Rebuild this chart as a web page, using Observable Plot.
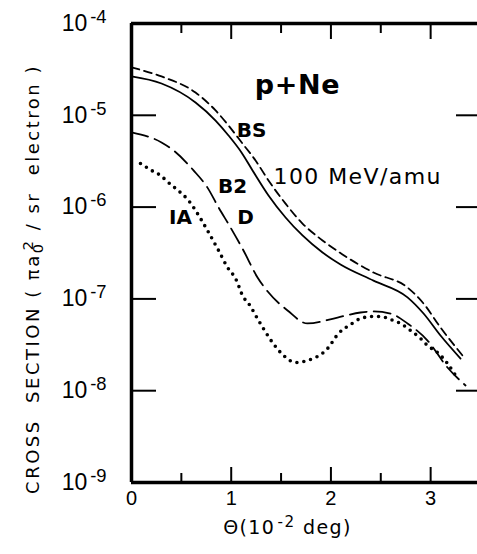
<!DOCTYPE html>
<html><head><meta charset="utf-8">
<script src="https://cdn.jsdelivr.net/npm/d3@7"></script>
<script src="https://cdn.jsdelivr.net/npm/@observablehq/plot@0.6"></script>
<style>
html,body{margin:0;padding:0;background:#fff}
#chart svg{display:block}
</style>
</head><body><div id="chart"></div>
<script>
// Scattering angle (10^-2 deg) and cross section (pi a0^2 / sr electron)
const thetaDashed = [0, 0.301, 0.642, 0.843, 0.973, 1.113, 1.244, 1.374, 1.545, 1.715, 1.916, 2.116, 2.427, 2.768, 2.929, 3.099, 3.32];
const sigmaDashed = [3.32e-5, 2.65e-5, 1.77e-5, 1.13e-5, 7.74e-6, 4.93e-6, 3.22e-6, 1.95e-6, 1.09e-6, 6.62e-7, 4.33e-7, 3.05e-7, 1.94e-7, 1.33e-7, 8.91e-8, 4.88e-8, 2.42e-8];

const thetaSolid = [0, 0.301, 0.642, 0.843, 0.973, 1.103, 1.214, 1.374, 1.545, 1.715, 1.916, 2.096, 2.427, 2.768, 2.929, 3.099, 3.30];
const sigmaSolid = [2.65e-5, 2.22e-5, 1.38e-5, 8.77e-6, 6.03e-6, 3.94e-6, 2.51e-6, 1.34e-6, 7.71e-7, 4.91e-7, 3.20e-7, 2.37e-7, 1.58e-7, 1.04e-7, 6.93e-8, 3.99e-8, 2.24e-8];

const thetaLongDash = [0, 0.301, 0.421, 0.622, 0.762, 0.873, 0.993, 1.123, 1.264, 1.364, 1.565, 1.765, 2.066, 2.297, 2.427, 2.598, 2.768, 2.969, 3.169, 3.35];
const sigmaLongDash = [6.50e-6, 5.06e-6, 4.14e-6, 2.51e-6, 1.63e-6, 9.91e-7, 6.00e-7, 3.37e-7, 1.71e-7, 1.21e-7, 7.48e-8, 5.40e-8, 6.27e-8, 7.11e-8, 7.30e-8, 6.93e-8, 5.40e-8, 3.52e-8, 1.79e-8, 1.14e-8];

const thetaDotted = [0.09, 0.201, 0.291, 0.371, 0.441, 0.572, 0.692, 0.762, 0.873, 0.963, 1.043, 1.123, 1.174, 1.274, 1.414, 1.525, 1.645, 1.765, 1.966, 2.076, 2.197, 2.297, 2.417, 2.497, 2.598, 2.698, 2.798, 2.899, 2.969, 3.069, 3.169, 3.250];
const sigmaDotted = [2.99e-6, 2.51e-6, 2.21e-6, 1.85e-6, 1.60e-6, 1.18e-6, 7.52e-7, 5.56e-7, 3.37e-7, 2.20e-7, 1.67e-7, 1.04e-7, 8.91e-8, 5.82e-8, 3.35e-8, 2.42e-8, 2.03e-8, 2.13e-8, 2.88e-8, 4.20e-8, 5.26e-8, 6.11e-8, 6.43e-8, 6.43e-8, 5.97e-8, 5.40e-8, 4.53e-8, 3.71e-8, 3.10e-8, 2.61e-8, 1.98e-8, 1.47e-8];

// Axis ticks
const xMajorTicks = [0, 1, 2, 3];
const xMinorTicks = [0.5, 1.5, 2.5];
const xInnerMajor = [1, 2, 3];
const yDecades = [1e-9, 1e-8, 1e-7, 1e-6, 1e-5, 1e-4];
const yInnerTicks = [1e-8, 1e-7, 1e-6, 1e-5];

// Text
const xTitle = "Θ(10^{-2} deg)";
const yTitle = "CROSS  SECTION ( πa_{0}^{2} / sr  electron )";
const boldLabels = ["p+Ne", "BS", "B2", "D", "IA"];
const boldLabelTheta = [1.665, 1.204, 1.013, 1.143, 0.491];
const boldLabelSigma = [2.11e-5, 6.82e-6, 1.68e-6, 7.71e-7, 7.71e-7];
const energyLabel = ["100 MeV/amu"];
const energyTheta = [1.424];
const energySigma = [2.15e-6];

const table = (xs, ys) => xs.map((x, i) => ({x, y: ys[i]}));
const dashed = table(thetaDashed, sigmaDashed);
const solid = table(thetaSolid, sigmaSolid);
const longDash = table(thetaLongDash, sigmaLongDash);
const dotted = table(thetaDotted, sigmaDotted);
const bold = boldLabels.map((t, i) => ({t, x: boldLabelTheta[i], y: boldLabelSigma[i]}));
const energy = energyLabel.map((t, i) => ({t, x: energyTheta[i], y: energySigma[i]}));

const W = 477, H = 554, mL = 131, mR = 0, mT = 23, mB = 72;
const pw = W - mL - mR, ph = H - mT - mB;
const font = "'Liberation Sans', Arial, sans-serif";
const wideFont = "'DejaVu Sans', sans-serif";
const curve = "monotone-x";

const chart = Plot.plot({
  width: W, height: H,
  marginLeft: mL, marginRight: mR, marginTop: mT, marginBottom: mB,
  style: {fontFamily: font, color: "#000", background: "#fff", overflow: "visible"},
  x: {domain: [0, 3.47], axis: null},
  y: {type: "log", domain: [1e-9, 1e-4], axis: null},
  marks: [
    // curves
    Plot.line(dashed, {x: "x", y: "y", curve, stroke: "#000", strokeWidth: 1.8, strokeDasharray: "8 5"}),
    Plot.line(solid, {x: "x", y: "y", curve, stroke: "#000", strokeWidth: 1.8}),
    Plot.line(longDash, {x: "x", y: "y", curve, stroke: "#000", strokeWidth: 1.8, strokeDasharray: "17 7"}),
    Plot.line(dotted, {x: "x", y: "y", curve, stroke: "#000", strokeWidth: 3.6, strokeDasharray: "0 7", strokeLinecap: "round"}),
    // inner ticks
    Plot.tickX(xInnerMajor, {x: d => d, insetTop: ph - 15, stroke: "#000", strokeWidth: 2}),
    Plot.tickX(xMinorTicks, {x: d => d, insetTop: ph - 9, stroke: "#000", strokeWidth: 2}),
    Plot.tickX(xInnerMajor, {x: d => d, insetBottom: ph - 16, stroke: "#000", strokeWidth: 2}),
    Plot.tickX(xMinorTicks, {x: d => d, insetBottom: ph - 10, stroke: "#000", strokeWidth: 2}),
    Plot.tickY(yInnerTicks, {y: d => d, insetRight: pw - 25, stroke: "#000", strokeWidth: 2}),
    Plot.tickY(yInnerTicks, {y: d => d, insetLeft: pw - 21, stroke: "#000", strokeWidth: 2}),
    // frame (left, bottom, top)
    Plot.ruleX([0], {stroke: "#000", strokeWidth: 3.5, y1: 1e-9, y2: 1e-4}),
    Plot.ruleY([1e-9, 1e-4], {stroke: "#000", strokeWidth: 3.5}),
    // axes labels
    Plot.axisX(xMajorTicks, {anchor: "bottom", tickSize: 0, tickPadding: 8, fontSize: 20, tickFormat: d => String(d), label: null}),
    Plot.axisY(yDecades, {anchor: "left", tickSize: 0, tickPadding: 25, fontSize: 23, tickFormat: d => `10^{${Math.round(Math.log10(d))}}`, label: null}),
    Plot.text([xTitle], {frameAnchor: "bottom", textAnchor: "middle", dx: -17, dy: 51, fontSize: 19, fontFamily: wideFont}),
    Plot.text([yTitle], {frameAnchor: "left", textAnchor: "middle", rotate: -90, dx: -98, dy: 26, fontSize: 18, fontFamily: wideFont}),
    // annotations
    Plot.text(bold, {x: "x", y: "y", text: "t", fontWeight: "bold", fontSize: 20, fontFamily: wideFont}),
    Plot.text(energy, {x: "x", y: "y", text: "t", textAnchor: "start", fontSize: 22, fontFamily: wideFont})
  ]
});

// convert ^{..} and _{..} markup into tspans
const NS = "http://www.w3.org/2000/svg";
function richify(el) {
  const s = el.textContent;
  if (!/[\^_]\{/.test(s)) return;
  el.textContent = "";
  const re = /([\^_])\{([^}]*)\}|([^\^_]+)/g;
  let m, prevSub = false;
  while ((m = re.exec(s))) {
    const t = document.createElementNS(NS, "tspan");
    if (m[1]) {
      t.textContent = m[2];
      t.setAttribute("baseline-shift", m[1] === "^" ? "45%" : "-25%");
      t.setAttribute("font-size", "80%");
      if (m[1] === "^" && prevSub) t.setAttribute("dx", "-0.6em");
      else if (m[1] === "^") t.setAttribute("dx", "0.15em");
      prevSub = m[1] === "_";
    } else {
      t.textContent = m[3];
      prevSub = false;
    }
    el.appendChild(t);
  }
}
chart.querySelectorAll("text").forEach(richify);

document.getElementById("chart").appendChild(chart);

// spread a text so it spans the given length, as the lettering in the figure does
function fit(el, target) {
  const n = el.textContent.length;
  const len = el.getComputedTextLength();
  if (n > 1 && len > 0) el.setAttribute("letter-spacing", ((target - len) / (n - 1)).toFixed(2));
}
chart.querySelectorAll("text").forEach(el => {
  const s = el.textContent;
  if (s === "p+Ne") { el.setAttribute("font-size", 27); fit(el, 85); }
  else if (s === "100 MeV/amu") fit(el, 167);
  else if (s.startsWith("CROSS")) fit(el, 436);
  else if (s.startsWith("Θ")) fit(el, 125);
});
</script>
</body></html>
